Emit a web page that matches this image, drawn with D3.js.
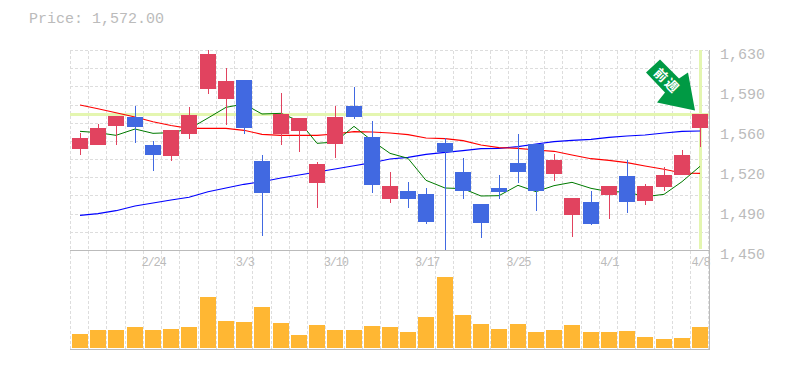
<!DOCTYPE html>
<html>
<head>
<meta charset="utf-8">
<script src="https://cdn.jsdelivr.net/npm/d3@7"></script>
<style>
  body { margin: 0; background: #fff; }
  text { font-family: "Liberation Mono", monospace; fill: #bbb; }
</style>
</head>
<body>
<svg width="785" height="370"></svg>
<script>
const open = [1540.9,1544.5,1561.6,1569.7,1544.5,1534.6,1554.4,1594.9,1585.9,1603,1530.1,1554.4,1557.1,1510.3,1545.4,1579.6,1551.7,1495.9,1503.1,1500.4,1546.3,1520.2,1491.4,1505.8,1528.3,1545.4,1518.4,1481.5,1493.2,1499.5,1516.6,1494.1,1506.7,1517.5,1559.8]
const high = [1555.3,1563.4,1570.6,1579.6,1548.1,1558,1578.7,1630,1613.8,1603,1535.5,1591.3,1568.8,1529.2,1579.6,1596.7,1566.1,1520.2,1511.2,1505.8,1550.8,1532.8,1491.4,1517.5,1554.4,1545.4,1536.4,1496.8,1503.1,1507.6,1531,1509.4,1524.7,1540,1572.4]
const low = [1535.5,1544.5,1544.5,1546.3,1521.1,1530.1,1549.9,1590.4,1562.5,1554.4,1462.6,1544.5,1538.2,1487.8,1532.8,1567.9,1501.3,1492.3,1487.8,1473.4,1450,1495.9,1460.8,1495.9,1510.3,1485.1,1512.1,1461.7,1472.5,1477.9,1483.3,1490.5,1503.1,1517.5,1542.7]
const close = [1550.8,1559.8,1570.6,1560.7,1535.5,1558,1571.5,1626.4,1602.1,1559.8,1501.3,1572.4,1568.8,1527.4,1569.7,1569.7,1508.5,1507.6,1495.9,1475.2,1538.2,1503.1,1474.3,1502.2,1520.2,1503.1,1531,1496.8,1473.4,1507.6,1493.2,1507.6,1517.5,1535.5,1572.4]
const maShort = [1556.8,1555.6,1553.2,1558.9,1555,1555.6,1558.9,1568.8,1578.4,1581.4,1572.4,1573,1566.1,1546,1547.2,1561.3,1548.4,1537,1532.5,1512.7,1505.8,1505.2,1498.6,1498.9,1508.2,1502.5,1507.9,1510.9,1505.5,1502.5,1502.2,1498,1500.1,1511.5,1525.3]
const maMid = [1580.5,1577.2,1573.6,1569.7,1565.5,1562,1559.5,1559.5,1559.5,1557.7,1554.1,1553.2,1553.2,1553.2,1554.4,1556.5,1556.2,1555.3,1553.8,1550.8,1550.2,1548.4,1544.5,1542.1,1541.5,1540,1538.8,1535.5,1532.2,1530.7,1528.6,1525.6,1522.6,1519.3,1519]
const maLong = [1481.2,1482.7,1485.4,1489.6,1492.3,1495,1497.4,1502.5,1505.8,1509.1,1511.5,1514.8,1517.5,1520.2,1522.9,1525.9,1528.6,1531.9,1533.4,1536.1,1537.9,1539.4,1541.2,1541.5,1543,1545.4,1547.5,1548.7,1549.6,1551.4,1552.6,1553.5,1555.3,1556.8,1557.1]
const volume = [14,18,18,21,18,19,21,51,27,26,41,25,13,23,18,18,22,21,16,31,71,33,24,19,24,16,18,23,16,16,17,11,9,10,21]
const yTicks = [1630,1594,1558,1522,1486,1450]
const yTickLabels = ['1,630','1,590','1,560','1,520','1,490','1,450']
const xTicks = [4,9,14,19,24,29,34]
const xTickLabels = ['2/24','3/3','3/10','3/17','3/25','4/1','4/8']
const lastPrice = 1572

const svg = d3.select('svg')
const red = '#e1435f'
const blue = '#4169e1'
const hiLite = '#e4f6b0'
const days = d3.range(open.length)

const x = d3.scaleBand().domain(days).range([70.4, 708.8])
const y = d3.scaleLinear().domain([1450, 1630]).range([250, 50])
const v = d3.scaleLinear().domain([0, 71]).range([348, 277])

const barX = i => Math.round(x(i) + 1.5)
const midX = i => barX(i) + 8

// grid
const grid = svg.append('g')
  .attr('stroke', '#ddd')
  .attr('stroke-dasharray', '3,2')
  .attr('shape-rendering', 'crispEdges')
grid.selectAll('.gx').data(days.concat(35))
  .enter().append('line')
    .attr('x1', i => Math.round(70 + x.step() * i) + 0.5)
    .attr('x2', i => Math.round(70 + x.step() * i) + 0.5)
    .attr('y1', 50.5)
    .attr('y2', 350)
grid.selectAll('.gy').data(d3.range(11))
  .enter().append('line')
    .attr('x1', 70)
    .attr('x2', 709)
    .attr('y1', k => Math.round(y(1630 - k * 180 / 11)) + 0.5)
    .attr('y2', k => Math.round(y(1630 - k * 180 / 11)) + 0.5)

// current price cross
svg.append('line')
  .attr('x1', 70).attr('x2', 709)
  .attr('y1', y(lastPrice)).attr('y2', y(lastPrice))
  .attr('stroke', hiLite).attr('stroke-width', 3)
  .attr('shape-rendering', 'crispEdges')
svg.append('line')
  .attr('x1', midX(34) + 0.5).attr('x2', midX(34) + 0.5)
  .attr('y1', 50).attr('y2', 249)
  .attr('stroke', hiLite).attr('stroke-width', 3)
  .attr('shape-rendering', 'crispEdges')

// frame
const frame = svg.append('g').attr('stroke', '#bbb').attr('shape-rendering', 'crispEdges')
frame.append('line').attr('x1', 70).attr('x2', 710).attr('y1', 250.5).attr('y2', 250.5)
frame.append('line').attr('x1', 70).attr('x2', 710).attr('y1', 349.5).attr('y2', 349.5)
frame.append('line').attr('x1', 709.5).attr('x2', 709.5).attr('y1', 50).attr('y2', 350)

// moving averages
const line = d3.line().x((d, i) => midX(i)).y(d => y(d))
const maData = [[maLong, '#0000ff', 1.1], [maMid, '#ff0000', 1.1], [maShort, '#007a00', 1]]
svg.selectAll('.ma').data(maData)
  .enter().append('path')
    .attr('class', 'ma')
    .attr('d', d => line(d[0]))
    .attr('fill', 'none')
    .attr('stroke', d => d[1])
    .attr('stroke-width', d => d[2])

// candles
const isUp = i => close[i] >= open[i]
const candles = svg.append('g').attr('shape-rendering', 'crispEdges')
candles.selectAll('.wick').data(days)
  .enter().append('line')
    .attr('x1', i => midX(i) + 0.5)
    .attr('x2', i => midX(i) + 0.5)
    .attr('y1', i => y(high[i]))
    .attr('y2', i => y(low[i]))
    .attr('stroke', i => isUp(i) ? red : blue)
candles.selectAll('.body').data(days)
  .enter().append('rect')
    .attr('x', barX)
    .attr('y', i => y(Math.max(open[i], close[i])))
    .attr('width', 16)
    .attr('height', i => Math.abs(y(open[i]) - y(close[i])))
    .attr('fill', i => isUp(i) ? red : blue)

// volume
svg.append('g').selectAll('rect').data(days)
  .enter().append('rect')
    .attr('x', barX)
    .attr('y', i => v(volume[i]))
    .attr('width', 16)
    .attr('height', i => v(0) - v(volume[i]))
    .attr('fill', '#ffb733')
    .attr('shape-rendering', 'crispEdges')

// axes
const yAxis = d3.axisRight(y)
  .tickValues(yTicks)
  .tickFormat((d, i) => yTickLabels[i])
  .tickSize(0)
  .tickPadding(0)
svg.append('g').call(yAxis)
  .attr('transform', 'translate(720,0)')
  .call(g => g.select('.domain').remove())
  .selectAll('text')
    .attr('dy', 8)
    .style('font-size', '15px')

const xAxis = d3.axisBottom(d3.scalePoint().domain(xTicks).range([midX(xTicks[0]), midX(34)]))
  .tickFormat((d, i) => xTickLabels[i])
  .tickSize(0)
  .tickPadding(0)
svg.append('g').call(xAxis)
  .attr('transform', 'translate(0,266)')
  .call(g => g.select('.domain').remove())
  .selectAll('text')
    .attr('y', 0)
    .attr('dy', 0)
    .style('font-size', '12px')
    .style('letter-spacing', '-1.2px')

svg.append('text')
  .text('Price: 1,572.00')
  .attr('x', 29)
  .attr('y', 23)
  .style('font-size', '15px')

// arrow, placed off the last candle
const tipX = midX(34) - 5
const tipY = y(lastPrice) - 4
const arrow = [[-49,-38],[-35,-51],[-16,-32],[-7,-38],[0,0],[-38,-8],[-30,-18]]
svg.append('polygon')
  .attr('points', arrow.map(p => [tipX + p[0], tipY + p[1]].join(',')).join(' '))
  .attr('fill', '#009a44')
svg.append('text')
  .text('前週')
  .attr('transform', `translate(${tipX - 28.5},${tipY - 29}) rotate(45)`)
  .attr('text-anchor', 'middle')
  .attr('dy', 4)
  .style('font-family', '"Noto Sans CJK JP"')
  .style('font-size', '13px')
  .style('font-weight', 'bold')
  .style('letter-spacing', '2px')
  .style('fill', '#fff')
</script>
</body>
</html>
